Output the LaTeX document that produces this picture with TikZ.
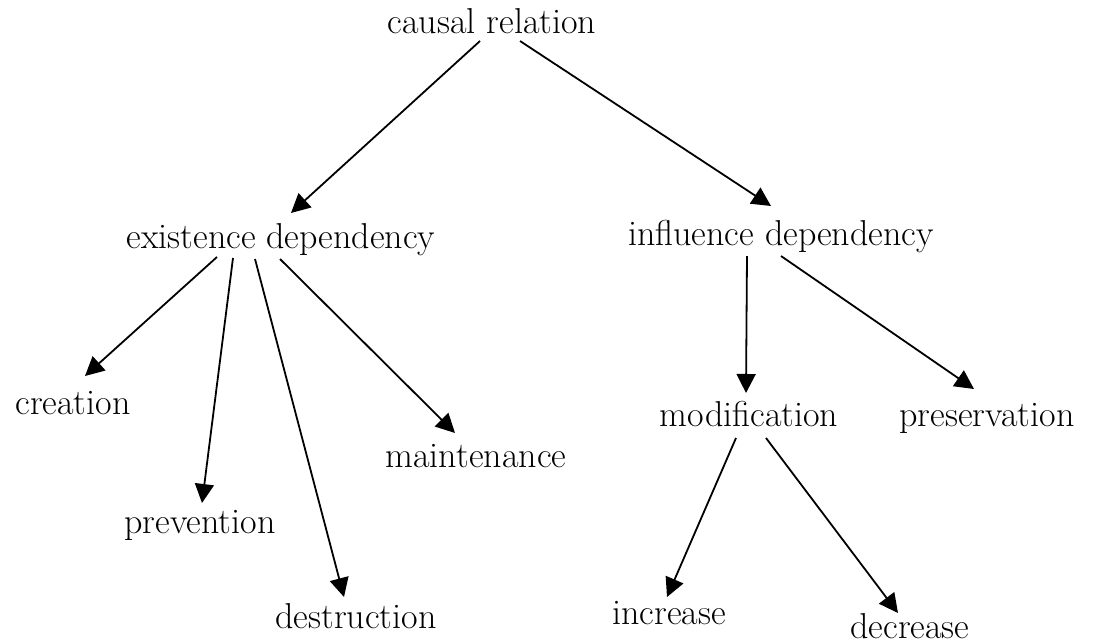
\documentclass[tikz,border=0pt]{standalone}
\usetikzlibrary{arrows.meta}
\begin{document}
\begin{tikzpicture}[x=1pt,y=-1pt,
  term/.style={anchor=base,inner sep=0pt,font=\fontsize{36}{43}\selectfont},
  arr/.style={line width=1.8pt,-{Triangle[length=19pt,width=19pt]}}]
\useasboundingbox (0,0) rectangle (1096,643);
% labels, placed by their baselines
\node[term] (cr)  at (492,33)  {causal relation};
\node[term] (ed)  at (281,248) {existence dependency};
\node[term] (id)  at (781,245) {influence dependency};
\node[term] (cre) at (73,414)  {creation};
\node[term] (pre) at (200,533) {prevention};
\node[term] (des) at (356,628) {destruction};
\node[term] (mai) at (476,467) {maintenance};
\node[term] (mod) at (749,426) {modification};
\node[term] (prs) at (987,426) {preservation};
\node[term] (inc) at (669,624) {increase};
\node[term] (dec) at (910,638) {decrease};
% top level
\draw[arr] ([shift={(-12,8)}]cr.base) -- ([shift={(10,-35)}]ed.base);
\draw[arr] ([shift={(28,8)}]cr.base) -- ([shift={(-10,-39)}]id.base);
% existence dependency
\draw[arr] ([shift={(-64,9)}]ed.base) -- ([shift={(12,-38)}]cre.base);
\draw[arr] ([shift={(-48,10)}]ed.base) -- ([shift={(2,-30)}]pre.base);
\draw[arr] ([shift={(-26,11)}]ed.base) -- ([shift={(-12,-31)}]des.base);
\draw[arr] ([shift={(-1,11)}]ed.base) -- ([shift={(-21,-34)}]mai.base);
% influence dependency
\draw[arr] ([shift={(-34,11)}]id.base) -- ([shift={(-3,-33)}]mod.base);
\draw[arr] ([shift={(0,11)}]id.base) -- ([shift={(-13,-37)}]prs.base);
% modification
\draw[arr] ([shift={(-13,12)}]mod.base) -- ([shift={(-2,-27)}]inc.base);
\draw[arr] ([shift={(17,12)}]mod.base) -- ([shift={(-12,-25)}]dec.base);
\end{tikzpicture}
\end{document}
